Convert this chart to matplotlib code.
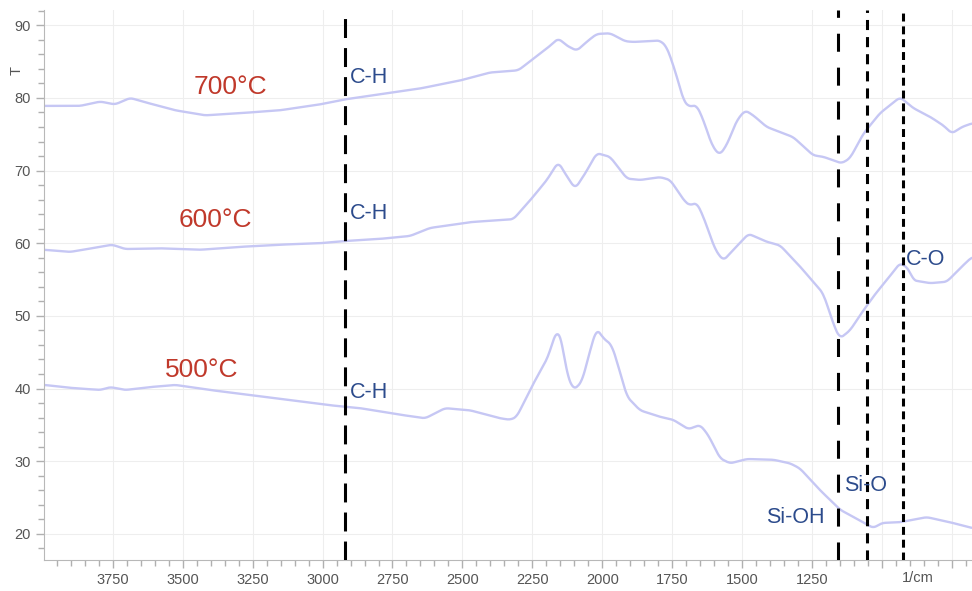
import numpy as np
import matplotlib
matplotlib.use('Agg')
import matplotlib.pyplot as plt
from matplotlib.ticker import MultipleLocator, FixedLocator

plt.rcParams['font.family'] = ['Liberation Sans', 'DejaVu Sans']

# ── spectra (wavenumber 1/cm, transmittance T) ──
wn_700 = [3996, 3867, 3795, 3742, 3688, 3634, 3527, 3420, 3295, 3152, 3010, 2920,
          2794, 2651, 2508, 2401, 2365, 2300, 2246, 2198, 2157, 2127, 2091, 2050,
          2020, 1972, 1918, 1889, 1793, 1769, 1740, 1710, 1692, 1662, 1638, 1608,
          1581, 1555, 1519, 1489, 1460, 1412, 1364, 1317, 1246, 1210, 1144, 1114,
          1066, 1007, 935, 888, 828, 780, 750, 714, 678]
t_700 = [78.9, 78.9, 79.5, 79.1, 80.0, 79.4, 78.3, 77.6, 77.9, 78.3, 79.1, 79.8,
         80.5, 81.3, 82.4, 83.5, 83.6, 83.8, 85.4, 86.8, 88.2, 87.2, 86.5, 87.9,
         88.8, 88.9, 87.8, 87.7, 87.9, 87.0, 83.8, 79.7, 78.8, 79.0, 76.9, 73.5,
         72.1, 73.5, 76.9, 78.3, 77.6, 76.0, 75.3, 74.6, 72.1, 71.9, 71.0, 71.7,
         75.1, 77.9, 80.1, 78.6, 77.4, 76.2, 75.1, 76.0, 76.5]

wn_600 = [3996, 3903, 3795, 3752, 3706, 3581, 3438, 3295, 3152, 3010, 2920, 2794,
          2687, 2616, 2472, 2365, 2318, 2258, 2198, 2157, 2133, 2097, 2061, 2020,
          1972, 1954, 1912, 1865, 1793, 1757, 1704, 1686, 1662, 1638, 1596, 1567,
          1531, 1477, 1412, 1364, 1293, 1210, 1168, 1150, 1114, 1071, 1024, 971,
          935, 905, 888, 828, 768, 714, 678]
t_600 = [59.1, 58.8, 59.5, 59.8, 59.2, 59.3, 59.1, 59.5, 59.8, 60.0, 60.3, 60.6,
         61.0, 62.1, 62.9, 63.2, 63.3, 65.9, 68.7, 71.2, 69.6, 67.5, 69.6, 72.4,
         71.9, 71.0, 68.9, 68.7, 69.1, 68.7, 65.7, 65.2, 65.6, 63.6, 59.1, 57.6,
         59.1, 61.3, 60.2, 59.7, 56.8, 53.1, 48.3, 46.9, 48.0, 50.5, 53.0, 55.5,
         57.3, 56.5, 54.9, 54.5, 54.7, 56.8, 58.1]

wn_500 = [3996, 3903, 3795, 3759, 3706, 3616, 3527, 3402, 3259, 3116, 2973, 2866,
          2723, 2633, 2562, 2472, 2365, 2329, 2306, 2246, 2193, 2172, 2160, 2145,
          2127, 2103, 2073, 2043, 2020, 1996, 1966, 1942, 1912, 1865, 1793, 1746,
          1692, 1650, 1621, 1579, 1543, 1483, 1388, 1328, 1293, 1221, 1149, 1096,
          1031, 1000, 935, 840, 757, 678]
t_500 = [40.5, 40.1, 39.8, 40.2, 39.8, 40.2, 40.5, 39.8, 39.1, 38.4, 37.7, 37.3,
         36.4, 35.9, 37.3, 37.0, 35.9, 35.7, 36.1, 40.7, 44.4, 47.1, 48.0, 46.7,
         42.1, 39.8, 40.9, 45.3, 48.3, 46.9, 46.0, 43.0, 38.9, 37.0, 36.1, 35.7,
         34.4, 35.0, 33.6, 30.4, 29.7, 30.3, 30.2, 29.7, 29.0, 26.0, 23.3, 22.2,
         20.8, 21.5, 21.6, 22.3, 21.6, 20.8]

series_labels = ['700°C', '600°C', '500°C']

# band markers
band_pos = [2920, 1157, 1055, 925]
xtick_vals = [3750, 3500, 3250, 3000, 2750, 2500, 2250, 2000, 1750, 1500, 1250]

CURVE = '#c6c7f4'
RED = '#c0392b'
BLUE = '#2c4b8c'

fig = plt.figure(figsize=(9.72, 5.91), dpi=100)
ax = fig.add_axes([44 / 972, 31 / 591, 1 - 44 / 972, 550 / 591])

def smooth(wn, t):
    # dense linear path through the read points, lightly smoothed
    xs = np.linspace(max(wn), min(wn), 900)
    ys = np.interp(xs[::-1], wn[::-1], t[::-1])[::-1]
    k = np.ones(7) / 7
    ys_s = np.convolve(np.pad(ys, 3, mode='edge'), k, mode='valid')
    return xs, ys_s

for wn, t in [(wn_700, t_700), (wn_600, t_600), (wn_500, t_500)]:
    xs, ys = smooth(wn, t)
    ax.plot(xs, ys, color=CURVE, lw=1.7, solid_capstyle='round', zorder=2)

# dashed band lines (dash lengths in points / linewidth)
lw = 2.2
ax.axvline(band_pos[0], color='black', lw=lw, dashes=(6.2, 3.3), zorder=3)
ax.axvline(band_pos[1], color='black', lw=lw, dashes=(5.9, 5.2), zorder=3)
ax.axvline(band_pos[2], color='black', lw=lw, dashes=(3.3, 2.3), zorder=3)
ax.axvline(band_pos[3], color='black', lw=lw, dashes=(2.6, 1.6), zorder=3)

# temperature labels
ax.text(3331, 81.5, series_labels[0], color=RED, fontsize=19, ha='center', va='center')
ax.text(3384, 63.2, series_labels[1], color=RED, fontsize=19, ha='center', va='center')
ax.text(3431, 42.5, series_labels[2], color=RED, fontsize=19, ha='center', va='center')

# band labels
for ty in [82.8, 64.1, 39.5]:
    ax.text(2903, ty, 'C-H', color=BLUE, fontsize=15.5, ha='left', va='center')
ax.text(915, 57.8, 'C-O', color=BLUE, fontsize=15.5, ha='left', va='center')
ax.text(1060, 26.6, 'Si-O', color=BLUE, fontsize=15.5, ha='center', va='center')
ax.text(1310, 22.3, 'Si-OH', color=BLUE, fontsize=15.5, ha='center', va='center')

ax.set_xlim(3996, 678)
ax.set_ylim(16.4, 92.1)

ax.xaxis.set_major_locator(FixedLocator(xtick_vals + [1000, 750]))
ax.set_xticklabels([str(v) for v in xtick_vals] + ['', ''])
ax.xaxis.set_minor_locator(MultipleLocator(50))
ax.yaxis.set_major_locator(MultipleLocator(10))
ax.yaxis.set_minor_locator(MultipleLocator(2))

ax.tick_params(which='major', length=6, width=1, color='#b0b0b0',
               labelcolor='#555555', labelsize=10.5)
ax.tick_params(which='minor', length=4, width=1, color='#b0b0b0')
ax.grid(True, which='major', color='#eeeeee', lw=0.8, zorder=0)
for side in ['top', 'right']:
    ax.spines[side].set_visible(False)
for side in ['left', 'bottom']:
    ax.spines[side].set_color('#b8b8b8')

ax.annotate('1/cm', xy=(870, 0), xycoords=ax.get_xaxis_transform(),
            xytext=(0, -8), textcoords='offset points', color='#555555',
            fontsize=10.5, ha='center', va='top')
ax.text(-0.029, 83.8, 'T', transform=ax.get_yaxis_transform(), color='#555555',
        fontsize=10.5, rotation=90, ha='center', va='center')

fig.savefig('out.png', dpi=100, facecolor='white')
